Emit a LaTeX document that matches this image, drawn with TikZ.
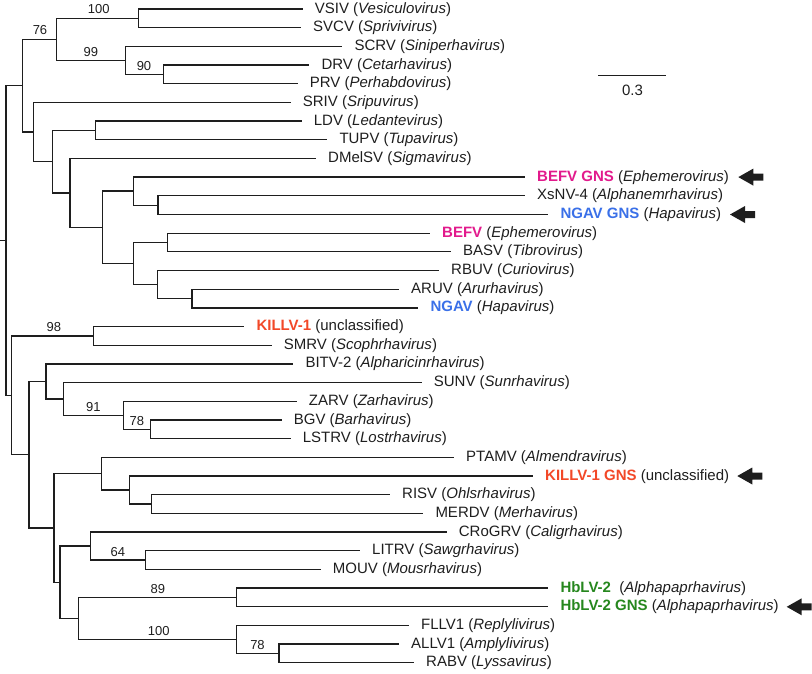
\documentclass[tikz,border=0pt]{standalone}
\usepackage{fontspec}
\setmainfont{Liberation Sans}
\definecolor{befv}{RGB}{226,26,140}
\definecolor{ngav}{RGB}{58,112,232}
\definecolor{killv}{RGB}{242,72,40}
\definecolor{hblv}{RGB}{38,135,30}
\definecolor{ink}{RGB}{30,30,30}
\begin{document}
\begin{tikzpicture}[x=1pt,y=-1pt,
  br/.style={line width=1.3pt, draw=ink},
  leaf/.style={anchor=west, inner xsep=12pt, inner ysep=0pt, text height=11pt, text depth=3pt, text=ink, font=\fontsize{15}{18}\selectfont},
  bs/.style={inner sep=0pt, text=ink, font=\fontsize{13}{15}\selectfont},
  gnsarrow/.pic={\fill[ink] (0,0) -- (15,-8.5) -- (15,-3.5) -- (25,-3.5) -- (25,3.5) -- (15,3.5) -- (15,8.5) -- cycle;}]
\useasboundingbox (0,0) rectangle (812,673);
% leaves
\node[leaf] (vsiv) at (302.7,9.0) {VSIV (\textit{Vesiculovirus})};
\node[leaf] (svcv) at (301,27.7) {SVCV (\textit{Sprivivirus})};
\node[leaf] (scrv) at (342.3,46.4) {SCRV (\textit{Siniperhavirus})};
\node[leaf] (drv) at (309.3,65.0) {DRV (\textit{Cetarhavirus})};
\node[leaf] (prv) at (297.7,83.7) {PRV (\textit{Perhabdovirus})};
\node[leaf] (sriv) at (290.7,102.4) {SRIV (\textit{Sripuvirus})};
\node[leaf] (ldv) at (301.7,121.1) {LDV (\textit{Ledantevirus})};
\node[leaf] (tupv) at (327.3,139.8) {TUPV (\textit{Tupavirus})};
\node[leaf] (dmelsv) at (316,158.4) {DMelSV (\textit{Sigmavirus})};
\node[leaf] (befvg) at (525,177.1) {\textcolor{befv}{\bfseries BEFV GNS} (\textit{Ephemerovirus})};
\node[leaf] (xsnv) at (525,195.8) {XsNV-4 (\textit{Alphanemrhavirus})};
\node[leaf] (ngavg) at (548.3,214.5) {\textcolor{ngav}{\bfseries NGAV GNS} (\textit{Hapavirus})};
\node[leaf] (befv) at (430,233.2) {\textcolor{befv}{\bfseries BEFV} (\textit{Ephemerovirus})};
\node[leaf] (basv) at (451,251.8) {BASV (\textit{Tibrovirus})};
\node[leaf] (rbuv) at (439,270.5) {RBUV (\textit{Curiovirus})};
\node[leaf] (aruv) at (399,289.2) {ARUV (\textit{Arurhavirus})};
\node[leaf] (ngav) at (418.3,307.9) {\textcolor{ngav}{\bfseries NGAV} (\textit{Hapavirus})};
\node[leaf] (killv) at (244.3,326.6) {\textcolor{killv}{\bfseries KILLV-1} (unclassified)};
\node[leaf] (smrv) at (271.7,345.2) {SMRV (\textit{Scophrhavirus})};
\node[leaf] (bitv) at (293.3,363.9) {BITV-2 (\textit{Alpharicinrhavirus})};
\node[leaf] (sunv) at (421.7,382.6) {SUNV (\textit{Sunrhavirus})};
\node[leaf] (zarv) at (296.7,401.3) {ZARV (\textit{Zarhavirus})};
\node[leaf] (bgv) at (281.7,420.0) {BGV (\textit{Barhavirus})};
\node[leaf] (lstrv) at (290.7,438.6) {LSTRV (\textit{Lostrhavirus})};
\node[leaf] (ptamv) at (454,457.3) {PTAMV (\textit{Almendravirus})};
\node[leaf] (killvg) at (533,476.0) {\textcolor{killv}{\bfseries KILLV-1 GNS} (unclassified)};
\node[leaf] (risv) at (390,494.7) {RISV (\textit{Ohlsrhavirus})};
\node[leaf] (merdv) at (423.3,513.4) {MERDV (\textit{Merhavirus})};
\node[leaf] (crogrv) at (446.7,532.0) {CRoGRV (\textit{Caligrhavirus})};
\node[leaf] (litrv) at (360,550.7) {LITRV (\textit{Sawgrhavirus})};
\node[leaf] (mouv) at (320.7,569.4) {MOUV (\textit{Mousrhavirus})};
\node[leaf] (hblv) at (548.3,588.1) {\textcolor{hblv}{\bfseries HbLV-2}\ \ (\textit{Alphapaprhavirus})};
\node[leaf] (hblvg) at (548.3,606.8) {\textcolor{hblv}{\bfseries HbLV-2 GNS} (\textit{Alphapaprhavirus})};
\node[leaf] (fllv) at (409,625.4) {FLLV1 (\textit{Replylivirus})};
\node[leaf] (allv) at (399,644.1) {ALLV1 (\textit{Amplylivirus})};
\node[leaf] (rabv) at (414,662.8) {RABV (\textit{Lyssavirus})};
% internal nodes
\coordinate (n100a) at (138.7,18.35);
\coordinate (n90) at (163.3,74.35);
\coordinate (n99) at (125.3,60.4);
\coordinate (n76) at (56.7,39.4);
\coordinate (nLT) at (95.7,130.45);
\coordinate (nXN) at (158,205.15);
\coordinate (nG) at (133.7,191.1);
\coordinate (nBB) at (167.3,242.5);
\coordinate (nAN) at (192,298.55);
\coordinate (nI) at (157.3,284.5);
\coordinate (nH) at (133.3,263.5);
\coordinate (nF) at (102.7,227.3);
\coordinate (nE) at (70,192.85);
\coordinate (nD) at (52.3,161.65);
\coordinate (nC) at (33.7,132.0);
\coordinate (nA) at (22.7,85.7);
\coordinate (n98) at (93.3,335.9);
\coordinate (n78a) at (150.3,429.3);
\coordinate (n91) at (123.7,415.3);
\coordinate (nM) at (63.7,398.95);
\coordinate (nL) at (46,381.4);
\coordinate (nRM) at (151.7,504.05);
\coordinate (nP) at (129.7,490.0);
\coordinate (nO) at (101.3,473.65);
\coordinate (n64) at (145.3,560.05);
\coordinate (nR) at (90.3,546.0);
\coordinate (n89) at (236.7,597.45);
\coordinate (n78b) at (279,653.45);
\coordinate (n100b) at (236.7,639.4);
\coordinate (nS) at (78.7,618.4);
\coordinate (nQ) at (60,582.2);
\coordinate (nN) at (54,527.9);
\coordinate (nK) at (29,454.65);
\coordinate (nJ) at (11.7,395.3);
\coordinate (root) at (6,240.5);
\coordinate (rootstub) at (0,240.5);
% branches
\draw[br] (rootstub) -- (root);
\draw[br] (root) |- (nA); \draw[br] (root) |- (nJ);
\draw[br] (nA) |- (n76); \draw[br] (nA) |- (nC);
\draw[br] (n76) |- (n100a); \draw[br] (n76) |- (n99);
\draw[br] (n100a) |- (vsiv.west); \draw[br] (n100a) |- (svcv.west);
\draw[br] (n99) |- (scrv.west); \draw[br] (n99) |- (n90);
\draw[br] (n90) |- (drv.west); \draw[br] (n90) |- (prv.west);
\draw[br] (nC) |- (sriv.west); \draw[br] (nC) |- (nD);
\draw[br] (nD) |- (nLT); \draw[br] (nD) |- (nE);
\draw[br] (nLT) |- (ldv.west); \draw[br] (nLT) |- (tupv.west);
\draw[br] (nE) |- (dmelsv.west); \draw[br] (nE) |- (nF);
\draw[br] (nF) |- (nG); \draw[br] (nF) |- (nH);
\draw[br] (nG) |- (befvg.west); \draw[br] (nG) |- (nXN);
\draw[br] (nXN) |- (xsnv.west); \draw[br] (nXN) |- (ngavg.west);
\draw[br] (nH) |- (nBB); \draw[br] (nH) |- (nI);
\draw[br] (nBB) |- (befv.west); \draw[br] (nBB) |- (basv.west);
\draw[br] (nI) |- (rbuv.west); \draw[br] (nI) |- (nAN);
\draw[br] (nAN) |- (aruv.west); \draw[br] (nAN) |- (ngav.west);
\draw[br] (nJ) |- (n98); \draw[br] (nJ) |- (nK);
\draw[br] (n98) |- (killv.west); \draw[br] (n98) |- (smrv.west);
\draw[br] (nK) |- (nL); \draw[br] (nK) |- (nN);
\draw[br] (nL) |- (bitv.west); \draw[br] (nL) |- (nM);
\draw[br] (nM) |- (sunv.west); \draw[br] (nM) |- (n91);
\draw[br] (n91) |- (zarv.west); \draw[br] (n91) |- (n78a);
\draw[br] (n78a) |- (bgv.west); \draw[br] (n78a) |- (lstrv.west);
\draw[br] (nN) |- (nO); \draw[br] (nN) |- (nQ);
\draw[br] (nO) |- (ptamv.west); \draw[br] (nO) |- (nP);
\draw[br] (nP) |- (killvg.west); \draw[br] (nP) |- (nRM);
\draw[br] (nRM) |- (risv.west); \draw[br] (nRM) |- (merdv.west);
\draw[br] (nQ) |- (nR); \draw[br] (nQ) |- (nS);
\draw[br] (nR) |- (crogrv.west); \draw[br] (nR) |- (n64);
\draw[br] (n64) |- (litrv.west); \draw[br] (n64) |- (mouv.west);
\draw[br] (nS) |- (n89); \draw[br] (nS) |- (n100b);
\draw[br] (n89) |- (hblv.west); \draw[br] (n89) |- (hblvg.west);
\draw[br] (n100b) |- (fllv.west); \draw[br] (n100b) |- (n78b);
\draw[br] (n78b) |- (allv.west); \draw[br] (n78b) |- (rabv.west);
% bootstrap values
\node[bs] (b100a) at (98.8,9.5) {100};
\node[bs] (b76) at (40,30.5) {76};
\node[bs] (b99) at (90.8,52) {99};
\node[bs] (b90) at (144,66) {90};
\node[bs] (b98) at (53.8,327.5) {98};
\node[bs] (b91) at (93.3,407) {91};
\node[bs] (b78a) at (136.8,421) {78};
\node[bs] (b64) at (117.8,552.3) {64};
\node[bs] (b89) at (157.8,589) {89};
\node[bs] (b100b) at (158.8,631) {100};
\node[bs] (b78b) at (257.5,645) {78};
% scale bar
\coordinate (sbl) at (598,75.5);
\coordinate (sbr) at (666,75.5);
\draw[br] (sbl) -- (sbr);
\node[inner sep=0pt, text=ink, font=\fontsize{15}{18}\selectfont] (sbt) at (632.5,90.7) {0.3};
% arrows
\pic (a1) at (738.3,177.1) {gnsarrow};
\pic (a2) at (730,214.5) {gnsarrow};
\pic (a3) at (737.3,476.0) {gnsarrow};
\pic (a4) at (786.7,606.8) {gnsarrow};
\end{tikzpicture}
\end{document}
